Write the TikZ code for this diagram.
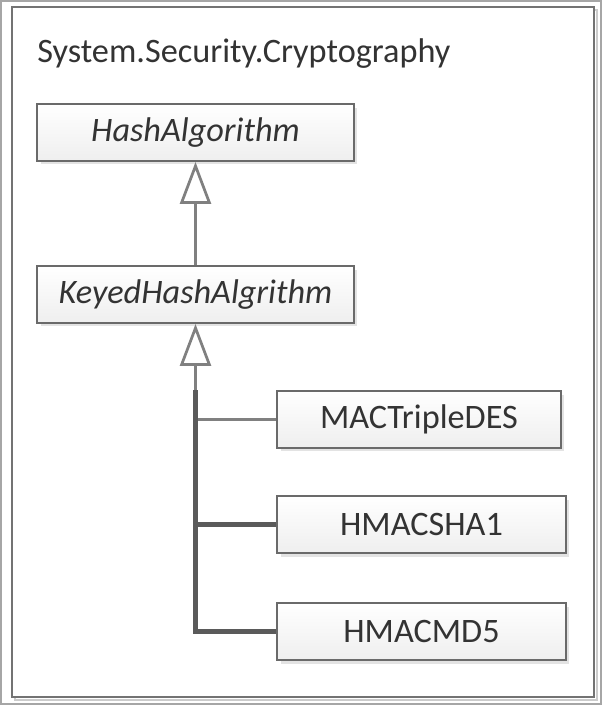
\documentclass[tikz,border=0pt]{standalone}
\usepackage{fontspec}
\setmainfont{Carlito}
\usetikzlibrary{positioning}
\usetikzlibrary{arrows.meta}
\usetikzlibrary{shadows}
\definecolor{boxline}{HTML}{6A6A6A}
\definecolor{linkgray}{HTML}{808080}
\definecolor{linkdark}{HTML}{5A5A5A}
\definecolor{txtgray}{HTML}{333333}

\begin{document}
\begin{tikzpicture}[x=0.02cm, y=-0.02cm,
  classbox/.style={draw=boxline, line width=0.04cm, inner sep=0pt,
    top color=white, bottom color=gray!13, text=txtgray,
    general shadow={fill=gray!22, shadow xshift=0.07cm, shadow yshift=-0.07cm},
    font=\fontsize{19.5}{23}\selectfont, minimum height=1.14cm},
  genarrow/.style={draw=linkgray, line width=0.055cm,
    -{Triangle[open, length=0.84cm, width=0.62cm, line width=0.055cm]}},
  thinlink/.style={draw=linkgray, line width=0.055cm},
  thicklink/.style={draw=linkdark, line width=0.1cm}]

\useasboundingbox (0,0) rectangle (602,705);

% frames
\draw[gray!70, line width=0.03cm] (1,1) rectangle (601,704);
\draw[gray!40, line width=0.04cm] (15,10) rectangle (597,700);
\draw[gray!90!black, line width=0.045cm, fill=white] (12,7) rectangle (594,697);

\node[anchor=base west, inner sep=0pt, text=txtgray, font=\fontsize{19.5}{23}\selectfont] (pkg) at (37,63) {System.Security.Cryptography};

% classes
\node[classbox, minimum width=6.34cm] (hash) at (195.5,132.5) {\itshape HashAlgorithm};
\node[classbox, minimum width=6.34cm] (keyed) at (195.5,294.5) {\itshape KeyedHashAlgrithm};
\node[classbox, minimum width=5.68cm] (mac) at (419,419.5) {MACTripleDES};
\node[classbox, minimum width=5.78cm] (sha) at (421.5,524.5) {HMACSHA1};
\node[classbox, minimum width=5.78cm] (md5) at (421.5,631.5) {HMACMD5};

% links
\coordinate (j1) at (keyed.south |- mac.west);
\coordinate (j2) at (195.5,390);
\draw[genarrow] (keyed.north) -- (hash.south);
\draw[genarrow] (j1) -- (keyed.south);
\draw[thinlink] (j1) -- (mac.west);
\draw[thicklink] (j2) |- (sha.west);
\draw[thicklink] (j2) |- (md5.west);

\end{tikzpicture}
\end{document}
